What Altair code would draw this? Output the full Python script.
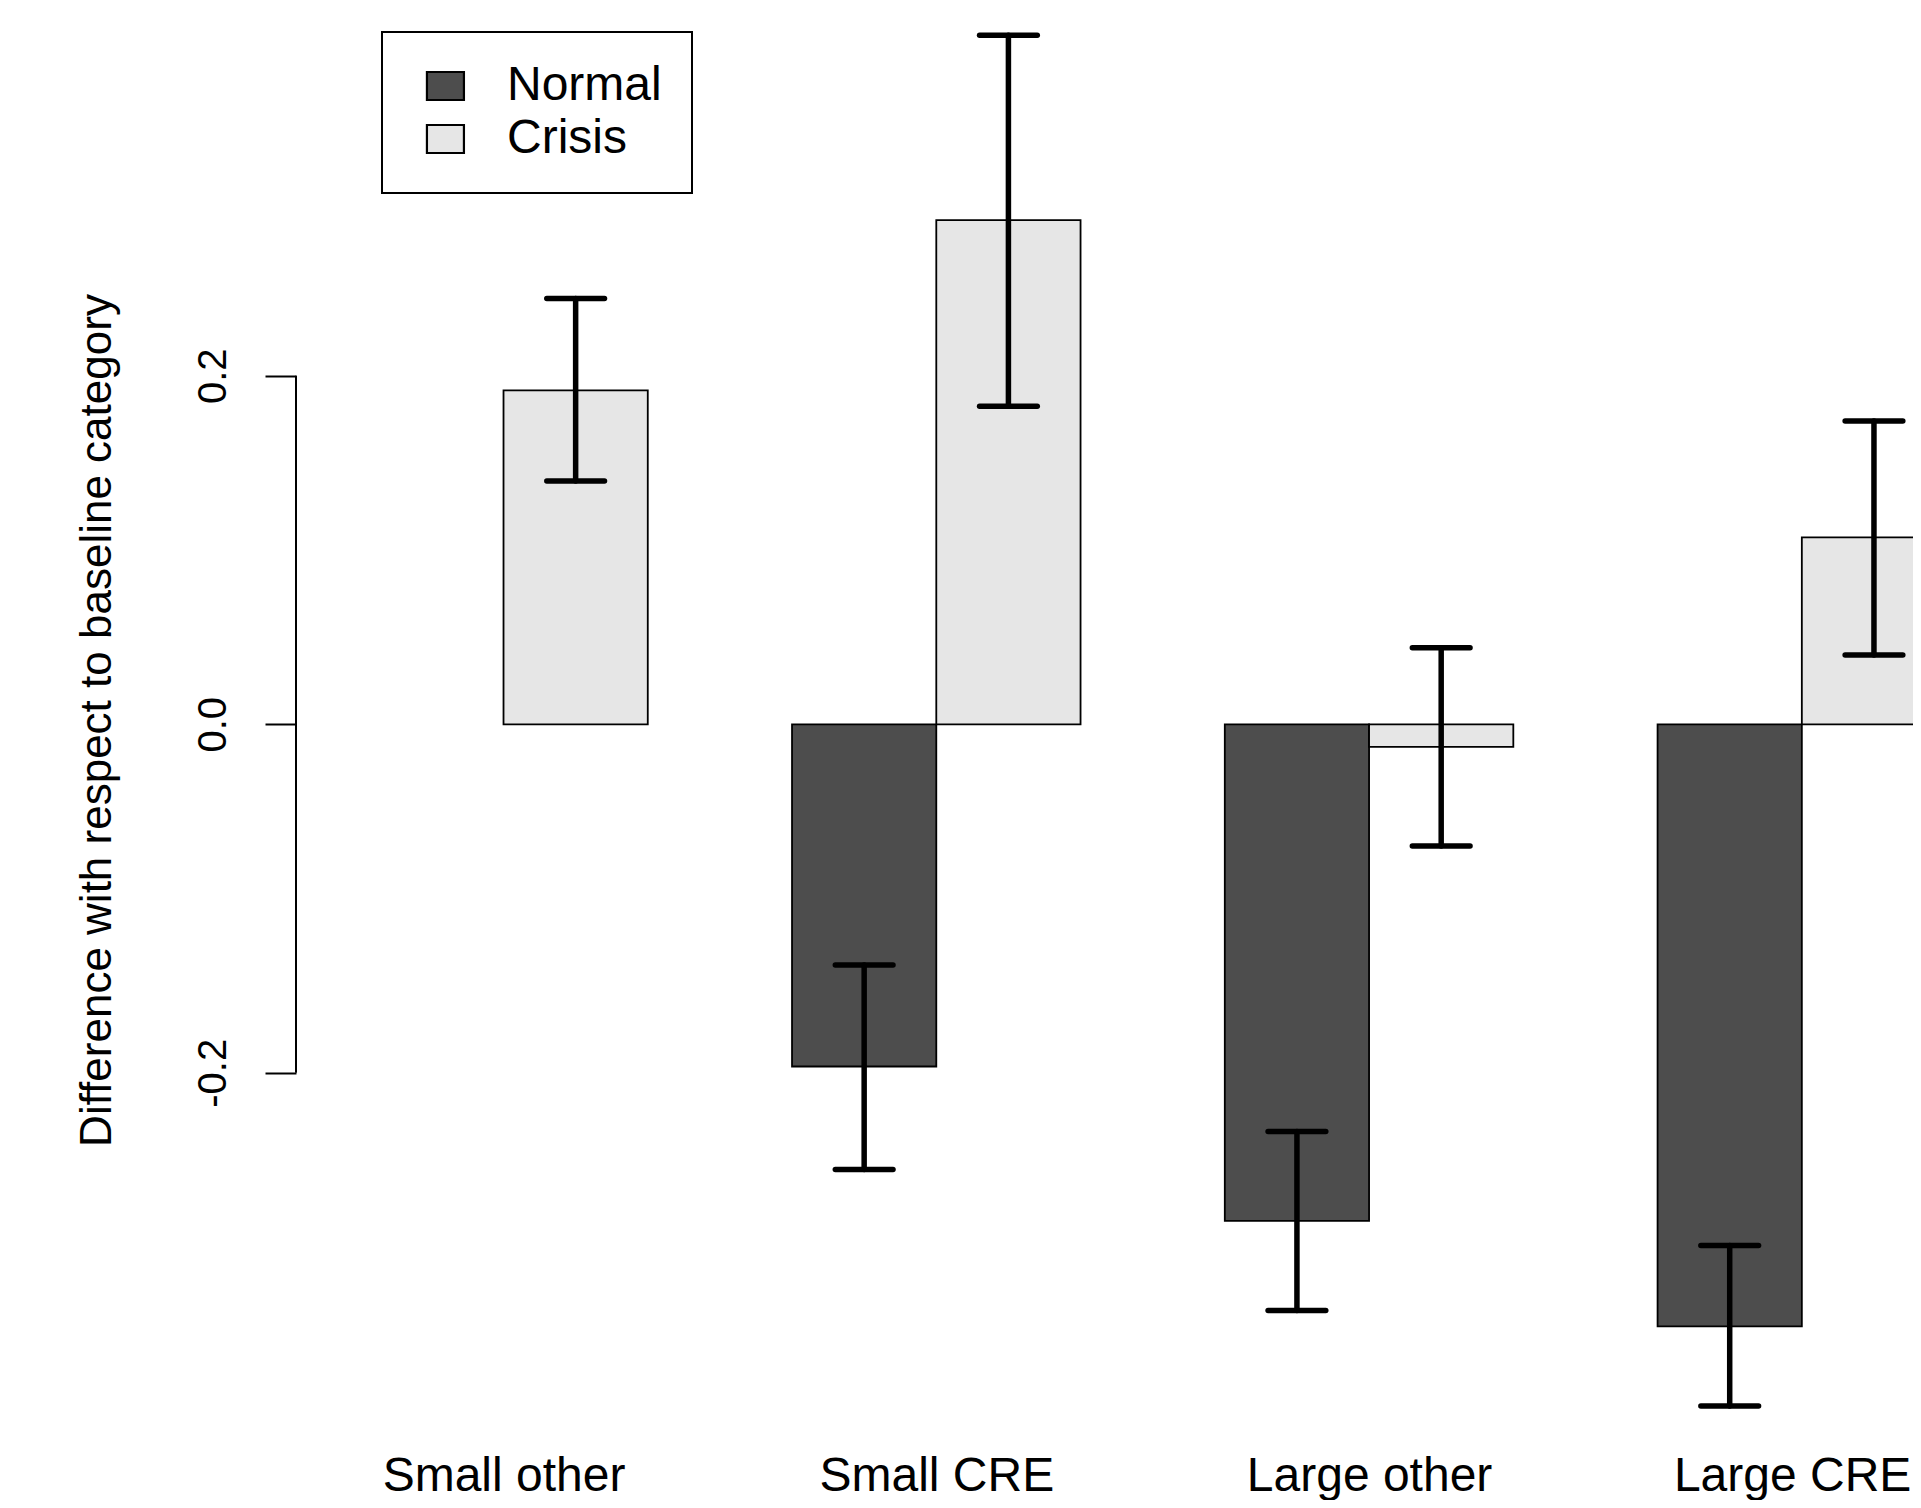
import altair as alt
import pandas as pd

# ---- data ----
categories = ["Small other", "Small CRE", "Large other", "Large CRE"]
series = ["Normal", "Crisis"]
normal_value = [None, -0.1964, -0.2850, -0.3455]
normal_low = [None, -0.2555, -0.3364, -0.3912]
normal_high = [None, -0.1381, -0.2337, -0.2991]
crisis_value = [0.1916, 0.2894, -0.0130, 0.1073]
crisis_low = [0.1396, 0.1825, -0.0699, 0.0398]
crisis_high = [0.2444, 0.3955, 0.0440, 0.1741]
y_ticks = [-0.2, 0.0, 0.2]
fill_colors = ["#4d4d4d", "#e6e6e6"]

FONT = "Liberation Sans"

rows = []
for g, cat in enumerate(categories):
    for j, (s, vals, lows, highs) in enumerate([
        ("Normal", normal_value, normal_low, normal_high),
        ("Crisis", crisis_value, crisis_low, crisis_high),
    ]):
        if vals[g] is None:
            continue
        left = 3 * g + 1 + j
        rows.append(dict(category=cat, series=s, value=vals[g], low=lows[g],
                         high=highs[g], base=0.0, left=left, right=left + 1,
                         mid=left + 0.5, capl=left + 0.3, capr=left + 0.7))
df = pd.DataFrame(rows)

group_centers = [3 * g + 2 for g in range(len(categories))]
label_expr = "[" + ",".join("'%s'" % c for c in categories) + "][round((datum.value - 2) / 3)]"

xs = alt.Scale(domain=[0.5615, 11.7706], nice=False, zero=False)
ys = alt.Scale(domain=[-0.4188, 0.4111], nice=False, zero=False)

x_axis = alt.Axis(values=group_centers, labelExpr=label_expr, domain=False, ticks=False,
                  tickSize=0, grid=False, labelFontSize=48, labelFont=FONT,
                  labelColor="black", labelPadding=36, labelBaseline="alphabetic",
                  labelFlush=120, labelFlushOffset=109, labelOverlap=False,
                  labelLimit=600, title=None)

y_axis = alt.Axis(values=y_ticks, format=".1f",
                  labelExpr="replace(datum.label, '\u2212', '-')",
                  domain=False, grid=False, ticks=True, tickSize=31, tickWidth=2,
                  tickColor="black", labelAngle=270, labelAlign="center",
                  labelBaseline="alphabetic", labelPadding=40, labelFontSize=40,
                  labelFont=FONT, labelColor="black",
                  title="Difference with respect to baseline category",
                  titleFontSize=44, titleFont=FONT, titleFontWeight="normal",
                  titleColor="black", titleAngle=270, titleBaseline="alphabetic",
                  titleAlign="center", titleX=-186, titleY=712)

legend = alt.Legend(title=None, orient="none", legendX=86, legendY=24,
                    labelFontSize=48, labelFont=FONT, labelColor="black",
                    labelLimit=600, labelOffset=47,
                    symbolType="M-0.49,-0.757H1.51V0.757H-0.49Z",
                    symbolSize=1369, symbolStrokeColor="black",
                    symbolStrokeWidth=2.2, symbolOpacity=1,
                    padding=30, rowPadding=5,
                    strokeColor="black", fillColor="white")

base = alt.Chart(df)

bars = base.mark_bar(clip=True, stroke="black", strokeWidth=1.8).encode(
    x=alt.X("left:Q", scale=xs, axis=x_axis),
    x2="right:Q",
    y=alt.Y("value:Q", scale=ys, axis=y_axis),
    y2="base:Q",
    fill=alt.Fill("series:N", scale=alt.Scale(domain=series, range=fill_colors),
                  legend=legend),
)

err_v = base.mark_rule(color="black", strokeWidth=5.5, strokeCap="round").encode(
    x=alt.X("mid:Q", scale=xs),
    y=alt.Y("low:Q", scale=ys),
    y2="high:Q",
)

cap_lo = base.mark_rule(color="black", strokeWidth=5.5, strokeCap="round").encode(
    x=alt.X("capl:Q", scale=xs),
    x2="capr:Q",
    y=alt.Y("low:Q", scale=ys),
)

cap_hi = base.mark_rule(color="black", strokeWidth=5.5, strokeCap="round").encode(
    x=alt.X("capl:Q", scale=xs),
    x2="capr:Q",
    y=alt.Y("high:Q", scale=ys),
)

axis_line = alt.Chart(pd.DataFrame({"lo": [y_ticks[0]], "hi": [y_ticks[-1]]})).mark_rule(
    color="black", strokeWidth=2).encode(
    x=alt.value(0),
    y=alt.Y("lo:Q", scale=ys),
    y2="hi:Q",
)

chart = alt.layer(bars, err_v, cap_lo, cap_hi, axis_line).properties(
    width=1617,
    height=1446,
    background="white",
    autosize=alt.AutoSizeParams(type="none"),
    padding={"left": 288, "top": 0, "right": 0, "bottom": 46},
).configure_view(stroke=None, strokeWidth=0).configure_legend(strokeWidth=2)

chart.save("out.html", embed_options={"renderer": "svg", "actions": False})
